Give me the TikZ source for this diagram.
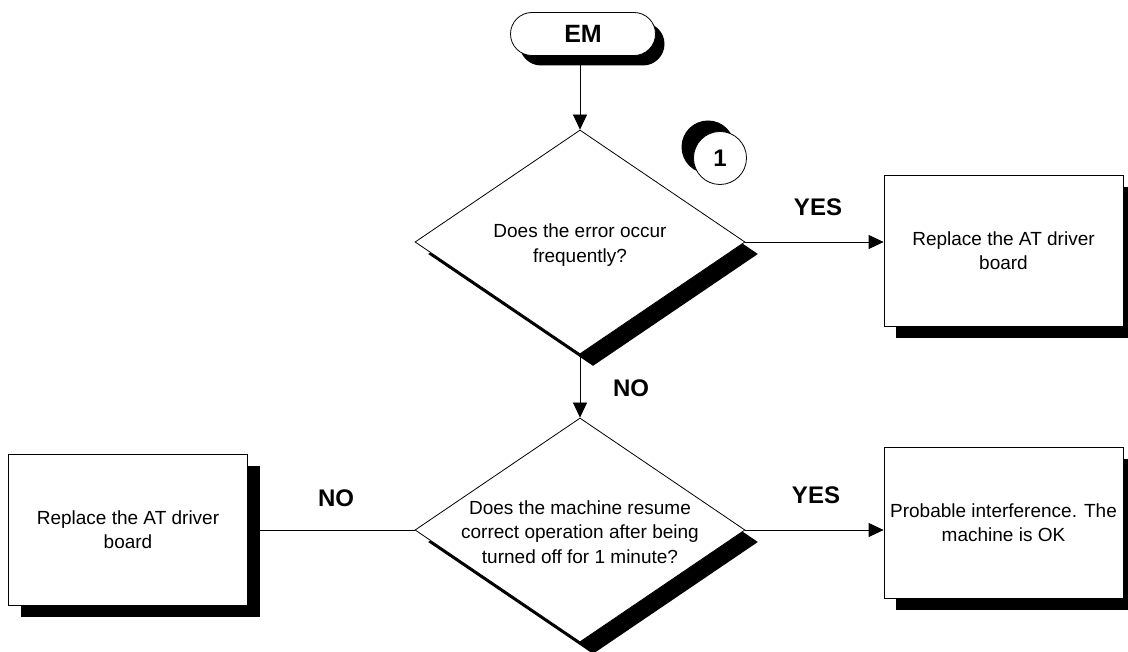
\documentclass[tikz,border=0pt]{standalone}
\usepackage{fontspec}
\setmainfont{Liberation Sans}
\usetikzlibrary{shapes.geometric,shadows,arrows.meta}
\begin{document}
\begin{tikzpicture}[x=1pt,y=-1pt,
  base/.style={draw=black, line width=0.8pt, fill=white, inner sep=0pt},
  shade/.style={drop shadow={shadow xshift=12pt, shadow yshift=-12pt, fill=black, opacity=1}},
  bodytext/.style={font=\fontsize{19}{24.5}\selectfont, align=center},
  actbox/.style={base, shade, rectangle, minimum width=239pt, minimum height=151pt, bodytext},
  decision/.style={base, drop shadow={shadow xshift=13pt, shadow yshift=-12pt, fill=black, opacity=1},
    diamond, minimum width=330pt, minimum height=224pt},
  qtext/.style={bodytext, inner sep=0pt},
  terminal/.style={base, drop shadow={shadow xshift=9pt, shadow yshift=-10pt, fill=black, opacity=1},
    rectangle, rounded corners=21.5pt, minimum width=145pt, minimum height=43pt,
    font=\fontsize{25}{25}\selectfont\bfseries},
  marker/.style={base, drop shadow={shadow xshift=-12pt, shadow yshift=11pt, fill=black, opacity=1},
    circle, minimum size=53pt, font=\fontsize{24}{24}\selectfont\bfseries},
  lbl/.style={font=\fontsize{24}{24}\selectfont\bfseries, inner sep=0pt},
  flow/.style={draw=black, line width=0.8pt},
  arr/.style={flow, -{Triangle[length=15pt, width=14pt]}}
]
\useasboundingbox (0,0) rectangle (1128,652);

% start terminal and reference marker
\node[terminal] (em) at (583,34) {EM};
\node[marker] (m1) at (720,158) {1};

% decisions
\node[decision] (q1) at (580,242) {};
\node[qtext] (q1t) at (580,245) {Does the error occur\\frequently?};
\node[decision] (q2) at (580,530) {};
\node[qtext] (q2t) at (580,532) {Does the machine resume\\correct operation after being\\turned off for 1 minute?};

% actions
\node[actbox] (b1) at (1003.5,250.5) {Replace the AT driver\\board};
\node[actbox] (b2) at (1003.5,522.5) {Probable interference. The\\machine is OK};
\node[actbox] (b3) at (128,529.5) {Replace the AT driver\\board};

% connectors
\draw[arr] (em.south -| q1.north) -- (q1.north);
\draw[arr] (q1.east) -- (q1.east -| b1.west);
\draw[arr] (q1.south) -- (q2.north);
\draw[arr] (q2.east) -- (q2.east -| b2.west);
\draw[flow] (q2.west) -- (q2.west -| b3.east);

% branch labels
\node[lbl] (yes1) at (818,207) {YES};
\node[lbl] (no1) at (631,388) {NO};
\node[lbl] (yes2) at (816,495) {YES};
\node[lbl] (no2) at (336,498) {NO};
\end{tikzpicture}
\end{document}
